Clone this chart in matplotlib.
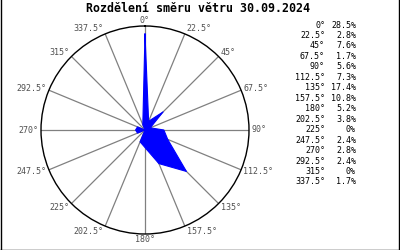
import numpy as np
from matplotlib import pyplot as plt
from matplotlib.lines import Line2D

title = "Rozdělení směru větru 30.09.2024"

directions = [0, 22.5, 45, 67.5, 90, 112.5, 135, 157.5,
              180, 202.5, 225, 247.5, 270, 292.5, 315, 337.5]
dir_labels = ["0", "22.5", "45", "67.5", "90", "112.5", "135", "157.5",
              "180", "202.5", "225", "247.5", "270", "292.5", "315", "337.5"]
percent = [28.5, 2.8, 7.6, 1.7, 5.6, 7.3, 17.4, 10.8,
           5.2, 3.8, 0, 2.4, 2.8, 2.4, 0, 1.7]
pct_labels = ["28.5", "2.8", "7.6", "1.7", "5.6", "7.3", "17.4", "10.8",
              "5.2", "3.8", "0", "2.4", "2.8", "2.4", "0", "1.7"]

W, H = 400, 250
fig = plt.figure(figsize=(4, 2.5), dpi=100)

# polar axes: centre (145,130) px, radius 104 px
cx, cy, rad = 145, 130, 104
ax = fig.add_axes([(cx - rad) / W, 1 - (cy + rad) / H, 2 * rad / W, 2 * rad / H],
                  projection="polar")
ax.set_theta_zero_location("N")
ax.set_theta_direction(-1)
rmax = 28.5 * rad / 96.0
ax.set_ylim(0, rmax)
ax.grid(False)
ax.set_xticks([])
ax.set_yticks([])
ax.spines["polar"].set_color("black")
ax.spines["polar"].set_linewidth(1.0)

theta = np.deg2rad(directions)

# spokes
for t in theta:
    ax.plot([t, t], [0, rmax], color="#808080", lw=0.9, zorder=1)

# rose polygon
tt = np.append(theta, theta[0])
rr = np.append(percent, percent[0])
ax.fill(tt, rr, color="#0000ff", zorder=3, lw=0)
ax.plot(tt, rr, color="#0000ff", lw=0.8, zorder=3)

# direction labels around the circle
for t, lab in zip(theta, dir_labels):
    s, c = np.sin(t), np.cos(t)
    if s > 0.01:
        ha = "left"
    elif s < -0.01:
        ha = "right"
    else:
        ha = "center"
    ax.annotate(lab + "°", xy=(t, rmax), xytext=(1.5 * np.sign(round(s, 2)), 4 * c),
                textcoords="offset points", ha=ha, va="center",
                fontsize=6, family="DejaVu Sans Mono", color="#505050",
                annotation_clip=False)

# title
fig.text(198 / W, 1 - 9 / H, title, ha="center", va="center",
         fontsize=8.4, fontweight="bold", family="DejaVu Sans Mono")

# table on the right
y0, dy = 25, (182 - 25) / 15
for i, (d, p) in enumerate(zip(dir_labels, pct_labels)):
    y = 1 - (y0 + i * dy) / H
    fig.text(325 / W, y, d + "°", ha="right", va="center",
             fontsize=6, family="DejaVu Sans Mono")
    fig.text(356 / W, y, p + "%", ha="right", va="center",
             fontsize=6, family="DejaVu Sans Mono")

# frame
for xs, ys in [([0.5, 0.5], [0, H]), ([398.5, 398.5], [0, H]), ([0, 399], [249.5, 249.5])]:
    fig.add_artist(Line2D([x / W for x in xs], [1 - y / H for y in ys],
                          color="black", lw=1.0))

fig.savefig("out.png", dpi=100)
